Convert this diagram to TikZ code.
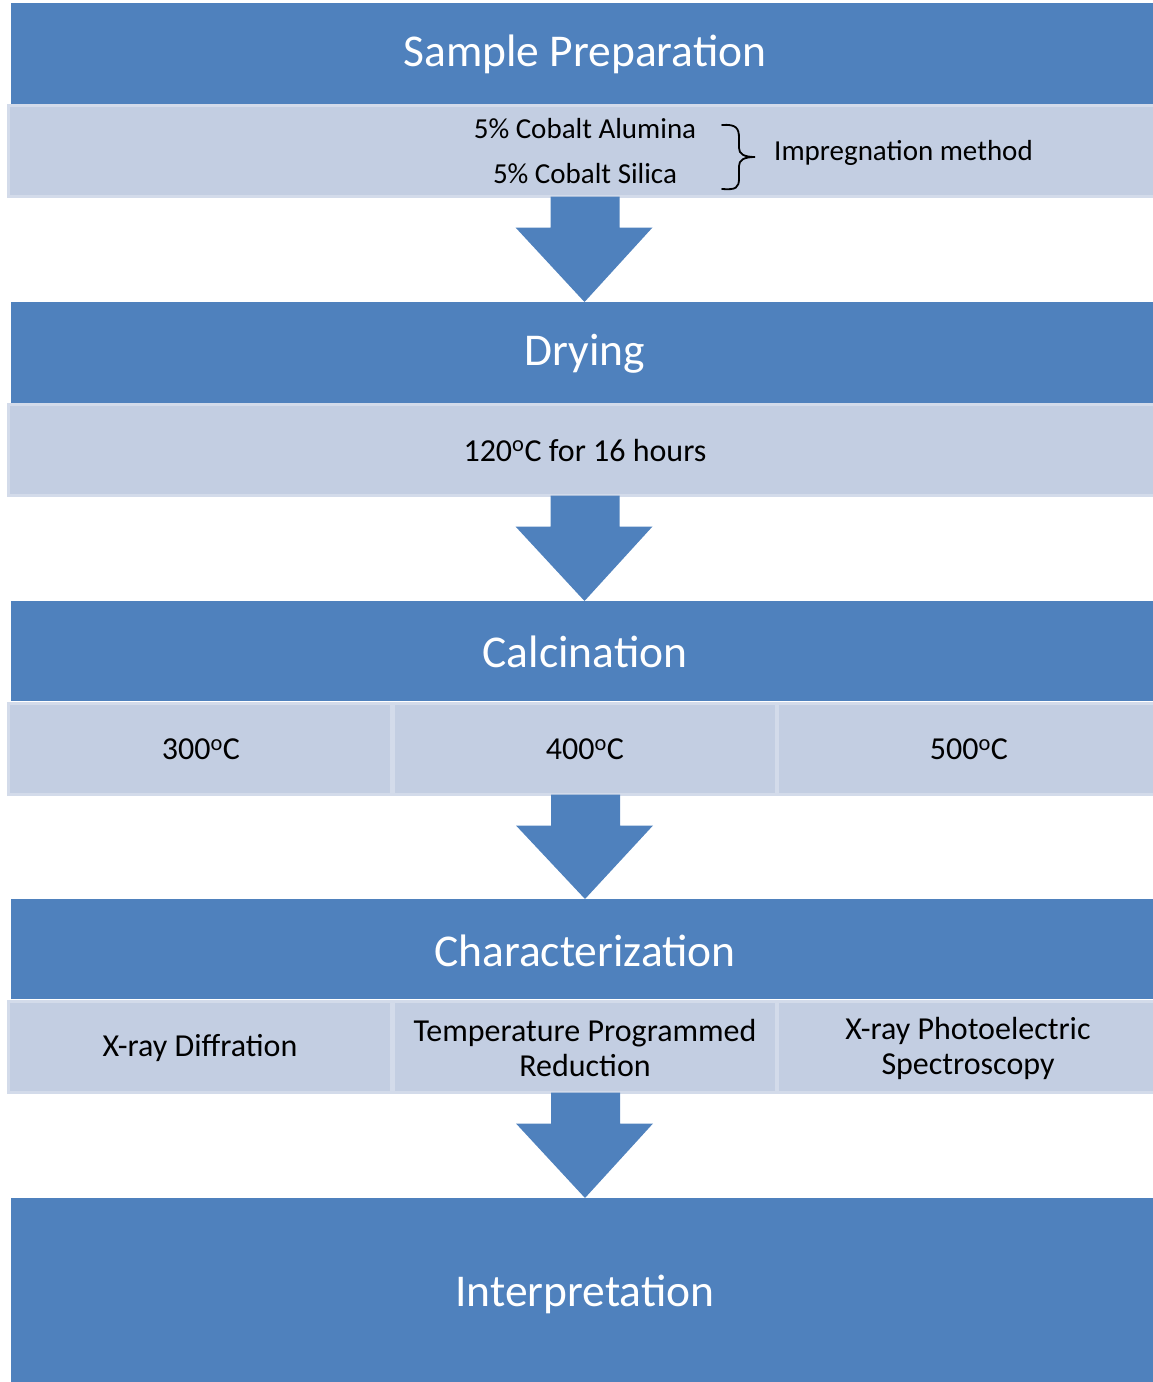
\documentclass[tikz,border=0pt]{standalone}
\usepackage{fontspec}
\setmainfont{Carlito}
\usetikzlibrary{calc}
\definecolor{darkband}{HTML}{4F81BD}
\definecolor{lightcell}{HTML}{C3CEE2}
\definecolor{lightedge}{HTML}{D3DBEA}
\tikzset{
  band/.style={fill=darkband, draw=none, inner sep=0pt, outer sep=0pt, anchor=north west},
  title/.style={text=white, inner sep=0pt, font=\fontsize{45.5}{50}\selectfont},
  cell/.style={fill=lightcell, draw=lightedge, line width=3pt, inner sep=0pt, outer sep=0pt,
    anchor=north west},
  txt/.style={inner sep=0pt, font=\fontsize{32}{35}\selectfont, align=center},
  smalltxt/.style={inner sep=0pt, font=\fontsize{29}{35}\selectfont, align=center}
}
\newcommand{\dgr}{\textsuperscript{o}}
\begin{document}
\begin{tikzpicture}[x=1pt,y=-1pt]
\useasboundingbox (0,0) rectangle (1153,1382);
% bands
\node[band, minimum width=1150pt, minimum height=101pt] (b1) at (11,3) {};
\node[band, minimum width=1150pt, minimum height=101pt] (b2) at (11,302) {};
\node[band, minimum width=1150pt, minimum height=100pt] (b3) at (11,601) {};
\node[band, minimum width=1150pt, minimum height=100pt] (b4) at (11,899) {};
\node[band, minimum width=1150pt, minimum height=190pt] (b5) at (11,1198) {};
% band titles
\node[title] (t1) at (585,54) {Sample Preparation};
\node[title] (t2) at (585,354) {Drying};
\node[title] (t3) at (585,652) {Calcination};
\node[title] (t4) at (585,951) {Characterization};
\node[title] (t5) at (585,1294) {Interpretation};
% light cells
\node[cell, minimum width=1152pt, minimum height=91pt] (c1) at (8.5,105.5) {};
\node[cell, minimum width=1152pt, minimum height=91pt] (c2) at (8.5,404.5) {};
\node[cell, minimum width=383pt, minimum height=91pt] (c3a) at (8.5,703.5) {};
\node[cell, minimum width=383pt, minimum height=91pt] (c3b) at (393.5,703.5) {};
\node[cell, minimum width=383pt, minimum height=91pt] (c3c) at (777.5,703.5) {};
\node[cell, minimum width=383pt, minimum height=91pt] (c4a) at (8.5,1001.5) {};
\node[cell, minimum width=383pt, minimum height=91pt] (c4b) at (393.5,1001.5) {};
\node[cell, minimum width=383pt, minimum height=91pt] (c4c) at (777.5,1001.5) {};
% cell texts
\node[smalltxt] (s1) at (585,129) {5\% Cobalt Alumina};
\node[smalltxt] (s2) at (585,174) {5\% Cobalt Silica};
\node[smalltxt, anchor=west] (imp) at (774,153) {Impregnation method};
\node[txt] (d1) at (585,450) {120\dgr C for 16 hours};
\node[txt] (k1) at (201,749) {300\dgr C};
\node[txt] (k2) at (585,749) {400\dgr C};
\node[txt] (k3) at (969,749) {500\dgr C};
\node[txt] (x1) at (200,1048) {X-ray Diffration};
\node[txt] (x2) at (585,1048) {Temperature Programmed\\Reduction};
\node[txt] (x3) at (968,1048) {X-ray Photoelectric\\Spectroscopy};
% brace
\draw[line width=1.8pt, line cap=round] (722,125) .. controls (736,124) and (739,128) .. (739,138)
  -- (739,148) .. controls (739,154) and (744,157) .. (755,157)
  .. controls (744,157) and (739,160) .. (739,166)
  -- (739,178) .. controls (739,188) and (736,190) .. (722,189);
% arrows
\foreach \src/\dst in {c1/b2, c2/b3, c3b/b4, c4b/b5}{
  \fill[darkband] ($(\src.south)+(-34,0)$) -- ($(\src.south)+(35,0)$)
    -- ($(\src.south)+(35,31)$) -- ($(\src.south)+(68,31)$)
    -- (\dst.north -| \src.south) -- ($(\src.south)+(-69,31)$)
    -- ($(\src.south)+(-34,31)$) -- cycle;
}
\end{tikzpicture}
\end{document}
